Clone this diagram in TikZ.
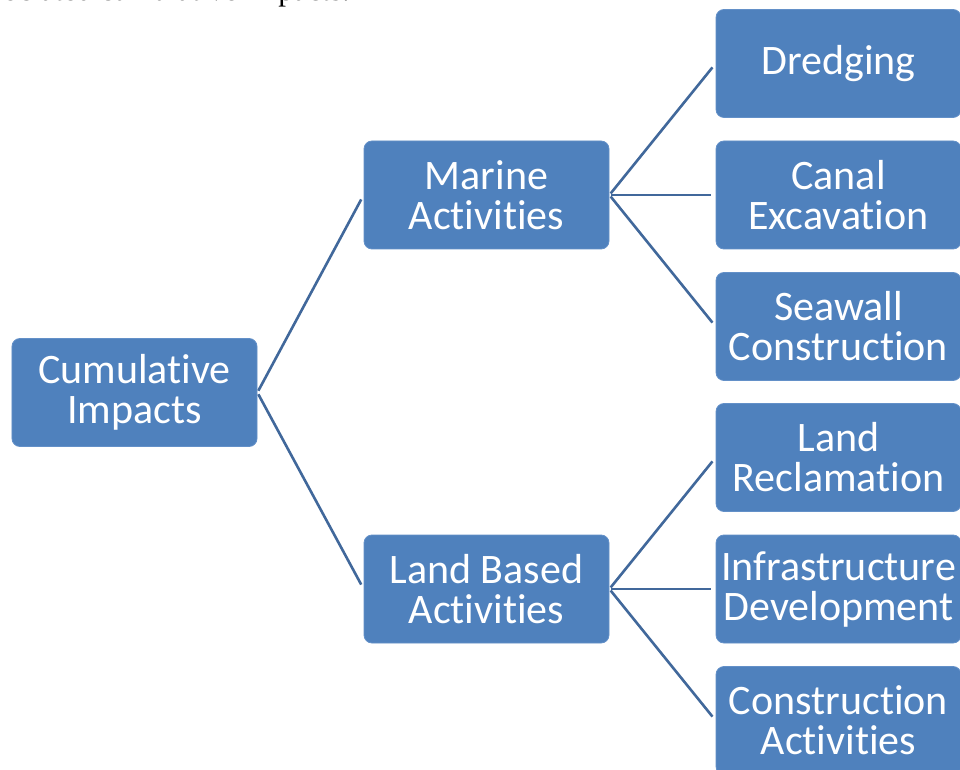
\documentclass[tikz,border=0pt]{standalone}
\usepackage{fontspec}
\usepackage[dvipsnames]{xcolor}
\usetikzlibrary{positioning}

\newfontfamily\boxfont[Ligatures=NoCommon]{Carlito}
\newfontfamily\capfont{Liberation Serif}

\definecolor{boxblue}{HTML}{4F81BD}
\definecolor{boxedge}{HTML}{6390C8}
\definecolor{linkblue}{HTML}{41689B}

\begin{document}
\begin{tikzpicture}[x=1pt,y=1pt,node distance=352pt,
    box/.style={rectangle,rounded corners=8pt,fill=boxblue,draw=boxedge,line width=0.8pt,
        text=white,font=\boxfont\fontsize{42}{40}\selectfont,align=center,
        minimum width=245pt,minimum height=108pt,inner sep=1pt},
    link/.style={draw=linkblue,line width=2.6pt,shorten <=2pt,shorten >=5pt}]

    \path[use as bounding box,fill=white] (-134.5,-377.5) rectangle (825.5,392.5);

    % cut-off caption line above the chart
    \node[anchor=base east,inner sep=0pt,font=\capfont\fontsize{31}{36}\selectfont] (caption) at (215.5,391.5) {ociated cumulative impacts.};

    \node[box] (root) {Cumulative\\Impacts};
    \node[box] (marine) [right of = root, yshift=197.5pt] {Marine\\Activities};
    \node[box] (land) [right of = root, yshift=-196.5pt] {Land Based\\Activities};

    % marine branch
    \node[box] (canal) [right of = marine] {Canal\\Excavation};
    \node[box] (dredging) [above of = canal, node distance=131.5pt] {Dredging};
    \node[box] (seawall) [below of = canal, node distance=131.5pt] {Seawall\\Construction};

    % land branch
    \node[box] (infra) [right of = land] {Infrastructure\\Development};
    \node[box] (reclaim) [above of = infra, node distance=131.5pt] {Land\\Reclamation};
    \node[box] (construct) [below of = infra, node distance=131.5pt] {Construction\\Activities};

    \foreach \curr in {marine,land}{
        \path[link] (root.east) -- (\curr.west);
    }

    \foreach \curr in {dredging,canal,seawall}{
        \path[link] (marine.east) -- (\curr.west);
    }

    \foreach \curr in {reclaim,infra,construct}{
        \path[link] (land.east) -- (\curr.west);
    }

\end{tikzpicture}
\end{document}
